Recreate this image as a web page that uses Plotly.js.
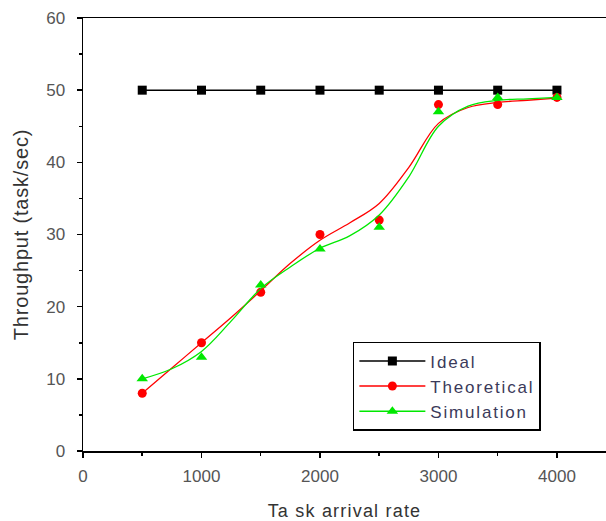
<!DOCTYPE html>
<html>
<head>
<meta charset="utf-8">
<script src="https://cdn.plot.ly/plotly-3.0.1.min.js"></script>
<style>
html,body{margin:0;padding:0;background:#fff;}
#chart{width:606px;height:521px;}
.legendtext{letter-spacing:1.8px;}
.xtitle{letter-spacing:1.2px;}
.ytitle{letter-spacing:0.8px;}
</style>
</head>
<body>
<div id="chart"></div>
<script>
// Data
const arrivalRate = [500, 1000, 1500, 2000, 2500, 3000, 3500, 4000];
const ideal       = [50, 50, 50, 50, 50, 50, 50, 50];
const theoretical = [8, 15, 22, 30, 32, 48, 48, 49];
const simulation  = [10, 13, 23, 28, 31, 47, 49, 49];

// Smoothed fit curves
const curveRate       = [500, 750, 1000, 1250, 1500, 1750, 2000, 2250, 2500, 2750, 3000, 3250, 3500, 3750, 4000];
const theoreticalFit  = [8, 11.5, 15, 18.5, 22.2, 26, 29.2, 31.6, 34.3, 39.3, 45.4, 47.6, 48.3, 48.6, 48.9];
const simulationFit   = [10, 11.4, 13.8, 18, 22.5, 25.5, 28.1, 29.8, 32.7, 38, 45, 47.8, 48.6, 48.8, 49];

const names = ['Ideal', 'Theoretical', 'Simulation'];
const colors = ['#000000', '#ff0000', '#00e800'];
const symbols = ['square', 'circle', 'triangle-up'];

const traces = [
  {x: arrivalRate, y: ideal, mode: 'lines+markers', name: names[0], legendgroup: 'g1',
   line: {color: colors[0], width: 1.5}, marker: {symbol: symbols[0], size: 9, color: colors[0]}},
  {x: curveRate, y: theoreticalFit, mode: 'lines', showlegend: false, hoverinfo: 'skip',
   line: {color: colors[1], width: 1.3, shape: 'spline', smoothing: 1}},
  {x: arrivalRate, y: theoretical, mode: 'markers', showlegend: false,
   marker: {symbol: symbols[1], size: 9, color: colors[1]}},
  {x: curveRate, y: simulationFit, mode: 'lines', showlegend: false, hoverinfo: 'skip',
   line: {color: colors[2], width: 1.3, shape: 'spline', smoothing: 1}},
  {x: arrivalRate, y: simulation, mode: 'markers', showlegend: false,
   marker: {symbol: symbols[2], size: 10, color: colors[2]}},
  {x: [null], y: [null], mode: 'lines+markers', name: names[1], legendgroup: 'g2',
   line: {color: colors[1], width: 1.5}, marker: {symbol: symbols[1], size: 9, color: colors[1]}},
  {x: [null], y: [null], mode: 'lines+markers', name: names[2], legendgroup: 'g3',
   line: {color: colors[2], width: 1.5}, marker: {symbol: symbols[2], size: 10, color: colors[2]}}
];

const layout = {
  width: 606, height: 521,
  margin: {l: 83, r: 0, t: 18, b: 70},
  paper_bgcolor: '#fff', plot_bgcolor: '#fff',
  font: {family: 'Liberation Sans, Arial, sans-serif', size: 17, color: '#555'},
  showlegend: true,
  xaxis: {
    range: [0, 4414], tickvals: [0, 1000, 2000, 3000, 4000], ticktext: ['0','1000','2000','3000','4000'],
    ticks: 'outside', ticklen: 5, tickwidth: 1.5, tickcolor: '#000', ticklabelstandoff: 4,
    minor: {tickvals: [500, 1500, 2500, 3500], ticks: 'outside', ticklen: 3, tickwidth: 1.5, tickcolor: '#000'},
    showline: true, linecolor: '#000', linewidth: 1.5, mirror: true,
    showgrid: false, zeroline: false, automargin: false,
    tickfont: {size: 17, color: '#555'},
    title: {text: 'Ta sk arrival rate', font: {size: 18, color: '#333'}, standoff: 19}
  },
  yaxis: {
    range: [0, 60], tickvals: [0, 10, 20, 30, 40, 50, 60],
    ticks: 'outside', ticklen: 5, tickwidth: 1.5, tickcolor: '#000', ticklabelstandoff: 8,
    minor: {tickvals: [5, 15, 25, 35, 45, 55], ticks: 'outside', ticklen: 3, tickwidth: 1.5, tickcolor: '#000'},
    showline: true, linecolor: '#000', linewidth: 1.5, mirror: false,
    showgrid: false, zeroline: false, automargin: false,
    tickfont: {size: 17, color: '#555'},
    title: {text: 'Throughput (task/sec)', font: {size: 20, color: '#333'}, standoff: 12}
  },
  legend: {
    x: 0.516, y: 0.252, xanchor: 'left', yanchor: 'top',
    bgcolor: '#fff', bordercolor: '#000', borderwidth: 1.5,
    font: {size: 17, color: '#3a3a5a'},
    tracegroupgap: 0, itemwidth: 66
  }
};

Plotly.newPlot('chart', traces, layout, {displayModeBar: false, staticPlot: true});
</script>
</body>
</html>
